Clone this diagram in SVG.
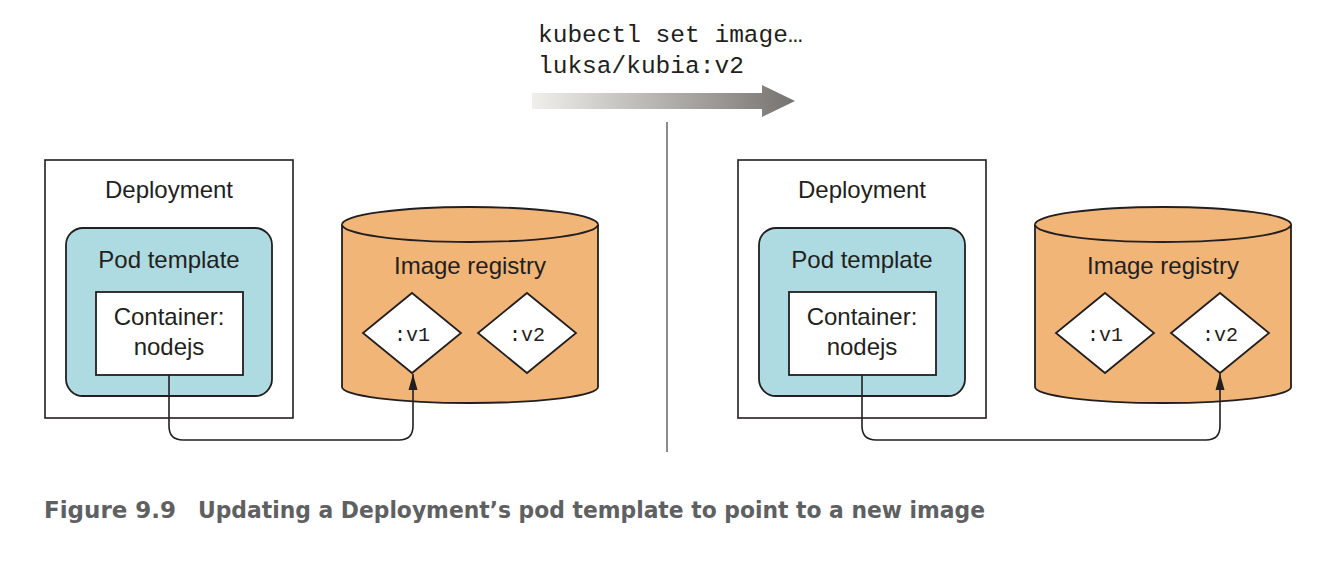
<svg xmlns="http://www.w3.org/2000/svg" width="1338" height="564" viewBox="0 0 1338 564">
<style>
.box{fill:#ffffff;stroke:#231f20;stroke-width:1.6}
.pod{fill:#aedae1;stroke:#231f20;stroke-width:1.8}
.cont{fill:#ffffff;stroke:#231f20;stroke-width:1.8}
.cyl{fill:#f1b577;stroke:#231f20;stroke-width:1.8}
.dia{fill:#ffffff;stroke:#231f20;stroke-width:1.8}
.lbl{font-family:"Liberation Sans",Arial,sans-serif;font-size:24px;fill:#231f20;text-anchor:middle}
.mono{font-family:"Liberation Mono","Courier New",monospace;fill:#231f20}
.tag{font-size:20px;text-anchor:middle}
.conn{fill:none;stroke:#231f20;stroke-width:1.6}
.cap{font-family:"DejaVu Sans Condensed","DejaVu Sans",sans-serif;font-weight:bold;font-size:23px;fill:#5f6062}
</style>
<defs>
<linearGradient id="grad" x1="0" y1="0" x2="1" y2="0">
<stop offset="0" stop-color="#f0efec"/>
<stop offset="1" stop-color="#76726f"/>
</linearGradient>
<marker id="ah" markerWidth="16" markerHeight="10" refX="16" refY="5" orient="auto" markerUnits="userSpaceOnUse" viewBox="0 0 16 10">
<path d="M0,0.5 L16,5 L0,9.5 Z" fill="#231f20"/>
</marker>
</defs>

<g id="command">
<text class="mono" x="538" y="42" font-size="24.5">kubectl set image…</text>
<text class="mono" x="538" y="73" font-size="24.5">luksa/kubia:v2</text>
<polygon points="532,93 762,93 762,85 795,101 762,117 762,109 532,109" fill="url(#grad)"/>
</g>

<g id="divider">
<line x1="667" y1="122" x2="667" y2="452" stroke="#6d6e70" stroke-width="1.6"/>
</g>

<g id="deployment-left">
<rect class="box" x="45" y="160" width="248" height="258"/>
<text class="lbl" x="169" y="198">Deployment</text>
</g>
<g id="pod-left">
<rect class="pod" x="66" y="228" width="206" height="168" rx="17"/>
<text class="lbl" x="169" y="268">Pod template</text>
</g>
<g id="container-left">
<rect class="cont" x="96" y="292" width="147" height="83"/>
<text class="lbl" x="169" y="325">Container:</text>
<text class="lbl" x="169" y="355">nodejs</text>
</g>
<g id="registry-left">
<path class="cyl" d="M342,224.5 A128,17.5 0 0 1 598,224.5 L598,387 A128,16 0 0 1 342,387 Z"/>
<path class="cyl" fill="none" d="M342,224.5 A128,17.5 0 0 0 598,224.5"/>
<text class="lbl" x="470" y="274">Image registry</text>
</g>
<g id="v1-left">
<polygon class="dia" points="412,293 461,333 412,373 363,333"/>
<text class="mono tag" x="412" y="341">:v1</text>
</g>
<g id="v2-left">
<polygon class="dia" points="527,293 576,333 527,373 478,333"/>
<text class="mono tag" x="527" y="341">:v2</text>
</g>

<g id="deployment-right">
<rect class="box" x="738" y="160" width="248" height="258"/>
<text class="lbl" x="862" y="198">Deployment</text>
</g>
<g id="pod-right">
<rect class="pod" x="759" y="228" width="206" height="168" rx="17"/>
<text class="lbl" x="862" y="268">Pod template</text>
</g>
<g id="container-right">
<rect class="cont" x="789" y="292" width="147" height="83"/>
<text class="lbl" x="862" y="325">Container:</text>
<text class="lbl" x="862" y="355">nodejs</text>
</g>
<g id="registry-right">
<path class="cyl" d="M1035,224.5 A128,17.5 0 0 1 1291,224.5 L1291,387 A128,16 0 0 1 1035,387 Z"/>
<path class="cyl" fill="none" d="M1035,224.5 A128,17.5 0 0 0 1291,224.5"/>
<text class="lbl" x="1163" y="274">Image registry</text>
</g>
<g id="v1-right">
<polygon class="dia" points="1105,293 1154,333 1105,373 1056,333"/>
<text class="mono tag" x="1105" y="341">:v1</text>
</g>
<g id="v2-right">
<polygon class="dia" points="1220,293 1269,333 1220,373 1171,333"/>
<text class="mono tag" x="1220" y="341">:v2</text>
</g>

<g id="connectors">
<path class="conn" d="M169,375 L169,426 Q169,440 183,440 L399,440 Q413,440 413,426 L413,374" marker-end="url(#ah)"/>
<path class="conn" d="M862,375 L862,426 Q862,440 876,440 L1206,440 Q1220,440 1220,426 L1220,374" marker-end="url(#ah)"/>
</g>

<g id="caption">
<text class="cap" x="44" y="518" textLength="132" lengthAdjust="spacingAndGlyphs">Figure 9.9</text>
<text class="cap" x="198" y="518" textLength="787" lengthAdjust="spacingAndGlyphs">Updating a Deployment’s pod template to point to a new image</text>
</g>
</svg>
